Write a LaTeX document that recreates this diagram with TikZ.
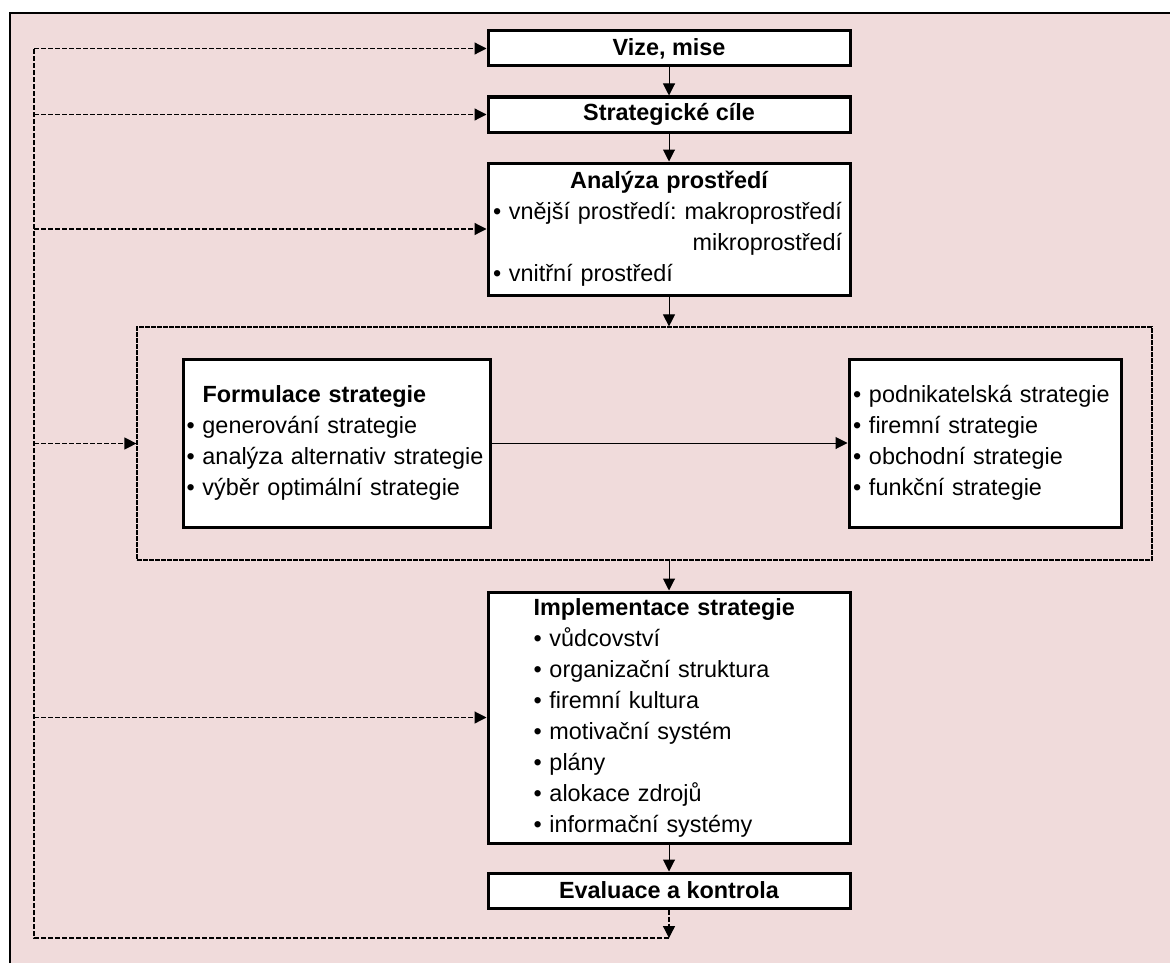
\documentclass[tikz,border=0pt]{standalone}
\usepackage{fontspec}
\setmainfont{Liberation Sans}
\usetikzlibrary{arrows.meta}
\definecolor{paleback}{HTML}{F0DBDB}
\frenchspacing

\begin{document}
\begin{tikzpicture}[x=0.5pt, y=-0.5pt,
  box/.style={draw, line width=1.5pt, fill=white, minimum width=181pt, inner sep=1pt, font=\fontsize{11.7}{15.5}\selectfont},
  titlebox/.style={box, minimum height=17.5pt, font=\fontsize{11.7}{15.5}\selectfont\bfseries},
  listbox/.style={box, align=left},
  groupbox/.style={draw, line width=0.6pt, dash pattern=on 2.5pt off 0.5pt, minimum width=507.5pt, minimum height=116.5pt},
  arr/.style={-{Triangle[length=6pt,width=6pt]}, line width=0.5pt},
  fbarr/.style={arr, line width=0.6pt, dash pattern=on 2.5pt off 1pt},
  fbline/.style={line width=0.6pt, dash pattern=on 2.5pt off 1pt}
]
\useasboundingbox (0,0) rectangle (1170,963);
\fill[paleback] (10,13) rectangle (1170,963);
\draw[line width=1pt] (10,963) -- (10,13) -- (1170,13);

% main chain
\node[titlebox] (vize) at (669,48.5) {Vize, mise};
\node[titlebox] (cile) at (669,114.5) {Strategické cíle};
\node[listbox, text width=176pt, minimum height=66pt] (analyza) at (669,229)
  {\makebox[\linewidth]{\bfseries Analýza prostředí}\\
   \mbox{• vnější prostředí: makroprostředí}\\
   \mbox{\hphantom{• vnější prostředí: }\hspace{4pt}mikroprostředí}\\
   • vnitřní prostředí};

% formulation block
\node[groupbox] (grp) at (644.5,443.5) {};
\node[listbox, text width=150pt, minimum width=153.5pt, minimum height=84pt] (formulace) at (336.5,443)
  {\hspace*{8pt}\textbf{Formulace strategie}\\• generování strategie\\• analýza alternativ strategie\\• výběr optimální strategie};
\node[listbox, text width=132pt, minimum width=136pt, minimum height=84pt] (druhy) at (985,443)
  {• podnikatelská strategie\\• firemní strategie\\• obchodní strategie\\• funkční strategie};

\node[listbox, text width=135.5pt, minimum height=125.5pt] (impl) at (669,717.5)
  {\textbf{Implementace strategie}\\• vůdcovství\\• organizační struktura\\• firemní kultura\\• motivační systém\\• plány\\• alokace zdrojů\\• informační systémy};
\node[titlebox] (eval) at (669,890.5) {Evaluace a kontrola};

\draw[arr] (vize) -- (cile);
\draw[arr] (cile) -- (analyza);
\draw[arr] (analyza) -- (analyza.south |- grp.north);
\draw[arr] (formulace) -- (druhy);
\draw[arr] (grp.south -| impl.north) -- (impl);
\draw[arr] (impl) -- (eval);

% feedback
\coordinate (fbend) at (669,938);
\coordinate (fbtop) at (34,48.5);
\draw[fbarr] (eval) -- (fbend);
\draw[fbline] (fbend) -| (fbtop);
\draw[fbarr] (fbtop) -- (vize);
\draw[fbarr] (fbtop |- cile) -- (cile);
\draw[fbarr] (fbtop |- analyza) -- (analyza);
\draw[fbarr] (fbtop |- grp) -- (grp);
\draw[fbarr] (fbtop |- impl) -- (impl);
\end{tikzpicture}
\end{document}
